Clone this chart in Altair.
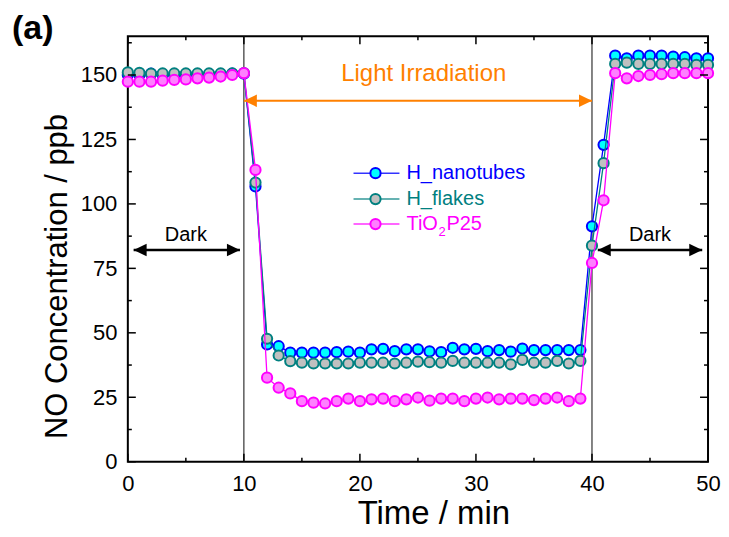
import altair as alt
import pandas as pd

minutes = list(range(51))
h_nanotubes = [150.0, 150.0, 150.5, 150.0, 150.0, 150.2, 150.2, 150.2, 150.2, 150.5, 150.5,
               106.8, 45.5, 44.8, 42.3, 42.3, 42.3, 42.3, 42.5, 42.7, 42.3, 43.6, 43.8, 42.9, 43.6, 43.6, 42.8,
               42.5, 44.2, 43.6, 43.8, 42.9, 43.3, 42.7, 43.9, 43.3, 43.3, 43.3, 43.3, 43.3,
               91.3, 122.9, 157.5, 156.5, 157.5, 157.5, 157.5, 157.1, 156.9, 156.5, 156.5]
h_flakes = [151.0, 150.8, 150.5, 150.6, 150.6, 150.6, 150.6, 150.6, 150.6, 150.6, 150.7,
            108.3, 47.7, 41.2, 39.0, 38.4, 38.1, 38.1, 38.1, 38.1, 38.4, 38.4, 38.4, 38.1, 38.4, 38.8, 38.6,
            38.4, 39.1, 38.4, 38.4, 38.4, 38.4, 37.8, 39.5, 38.4, 38.4, 39.1, 38.1, 39.1,
            83.8, 115.8, 154.3, 154.8, 154.3, 154.3, 154.3, 154.3, 154.3, 153.9, 153.9]
tio2_p25 = [147.4, 147.4, 147.4, 147.8, 148.1, 148.3, 148.7, 149.0, 149.4, 150.0, 150.7,
            113.2, 32.6, 28.7, 26.5, 23.5, 22.9, 22.6, 23.5, 24.5, 23.5, 24.2, 24.5, 23.5, 24.2, 24.9, 23.7,
            24.5, 24.5, 23.5, 24.5, 24.9, 24.2, 24.5, 24.5, 23.9, 24.5, 24.9, 23.5, 24.5,
            77.1, 101.4, 150.7, 148.7, 149.6, 150.0, 150.3, 150.7, 150.7, 150.7, 150.7]

series_names = ["H_nanotubes", "H_flakes", "TiO2P25"]
series_values = [h_nanotubes, h_flakes, tio2_p25]
line_colors = ["#0000FF", "#008080", "#FF00FF"]
fill_colors = ["#00FFFF", "#C0C0C0", "#FF80FF"]

x_major = [0, 10, 20, 30, 40, 50]
x_minor = [5, 15, 25, 35, 45]
y_major = [0, 25, 50, 75, 100, 125, 150]
y_minor = [12.5, 37.5, 62.5, 87.5, 112.5, 137.5, 162.5]

irradiation_bounds = [10, 40]
dark_labels = ["Dark", "Dark"]
dark_label_x = [5, 45]
dark_arrow_start = [0.5, 40.5]
dark_arrow_end = [9.66, 49.5]
dark_arrow_y = 82.1
dark_label_y = 85.5
light_label = "Light Irradiation"
light_label_x = 25.5
light_label_y = 147.7
light_arrow_y = 140

W, H = 581, 426
FONT = "Liberation Sans"
ORANGE = "#FF8000"
MSIZE = 105

xs = alt.Scale(domain=[0, 50], nice=False, zero=False)
ys = alt.Scale(domain=[0, 165], nice=False, zero=False)
x_axis = alt.Axis(values=x_major, title="Time / min", grid=False, domain=False, ticks=False, tickSize=0,
                  labelFont=FONT, labelFontSize=22, labelColor="black", labelPadding=12, labelFlush=False,
                  titleFont=FONT, titleFontSize=33, titleFontWeight="normal", titleColor="black",
                  titleX=306, titleY=62, titleAlign="center", titleBaseline="alphabetic")
y_axis = alt.Axis(values=y_major, title="NO Concentration / ppb", grid=False, domain=False, ticks=False,
                  tickSize=0, labelFont=FONT, labelFontSize=22, labelColor="black", labelPadding=11,
                  labelFlush=False,
                  titleFont=FONT, titleFontSize=31, titleFontWeight="normal", titleColor="black",
                  titleX=-61, titleY=240, titleAngle=270, titleAlign="center", titleBaseline="alphabetic")


def X(field):
    return alt.X(field, scale=xs, axis=x_axis)


def Y(field):
    return alt.Y(field, scale=ys, axis=y_axis)


layers = []

# vertical lines at the irradiation bounds
vl = pd.DataFrame({"x": irradiation_bounds})
layers.append(alt.Chart(vl).mark_rule(color="#333333", strokeWidth=1.2).encode(
    x=X("x:Q"), y=alt.value(0), y2=alt.value(H)))

# data series
for i, (name, vals) in enumerate(zip(series_names, series_values)):
    df = pd.DataFrame({"minute": minutes, "ppb": vals})
    base = alt.Chart(df).encode(x=X("minute:Q"), y=Y("ppb:Q"))
    layers.append(base.mark_line(color=line_colors[i], strokeWidth=1.3))
    layers.append(base.mark_point(shape="circle", size=MSIZE, filled=True, fill=fill_colors[i],
                                  stroke=line_colors[i], strokeWidth=2, opacity=1))


# tick marks, inward on all four sides
def yticks(vals, length):
    d = pd.DataFrame({"v": vals})
    left = alt.Chart(d).mark_rule(color="black", strokeWidth=1.5).encode(
        y=Y("v:Q"), x=alt.value(0), x2=alt.value(length))
    right = alt.Chart(d).mark_rule(color="black", strokeWidth=1.5).encode(
        y=Y("v:Q"), x=alt.value(W), x2=alt.value(W - length))
    return [left, right]


def xticks(vals, length):
    d = pd.DataFrame({"v": vals})
    bottom = alt.Chart(d).mark_rule(color="black", strokeWidth=1.5).encode(
        x=X("v:Q"), y=alt.value(H), y2=alt.value(H - length))
    top = alt.Chart(d).mark_rule(color="black", strokeWidth=1.5).encode(
        x=X("v:Q"), y=alt.value(0), y2=alt.value(length))
    return [bottom, top]


layers += yticks(y_major, 8) + yticks(y_minor, 4) + xticks(x_major, 8) + xticks(x_minor, 4)

# arrows
arrows = pd.DataFrame({
    "x1": dark_arrow_start + [irradiation_bounds[0]],
    "x2": dark_arrow_end + [irradiation_bounds[1]],
    "y": [dark_arrow_y, dark_arrow_y, light_arrow_y],
    "c": ["black", "black", ORANGE],
    "w": [2.5, 2.5, 2],
})
layers.append(alt.Chart(arrows).mark_rule().encode(
    x=X("x1:Q"), x2="x2:Q", y=Y("y:Q"),
    color=alt.Color("c:N", scale=None), strokeWidth=alt.StrokeWidth("w:Q", scale=None)))

heads_left = pd.DataFrame({"x": arrows["x1"], "y": arrows["y"], "c": arrows["c"]})
heads_right = pd.DataFrame({"x": arrows["x2"], "y": arrows["y"], "c": arrows["c"]})
layers.append(alt.Chart(heads_left).mark_point(shape="M0,0L1,-0.48L1,0.48Z", size=676, filled=True,
                                               opacity=1, strokeWidth=0).encode(
    x=X("x:Q"), y=Y("y:Q"), color=alt.Color("c:N", scale=None)))
layers.append(alt.Chart(heads_right).mark_point(shape="M0,0L-1,-0.48L-1,0.48Z", size=676, filled=True,
                                                opacity=1, strokeWidth=0).encode(
    x=X("x:Q"), y=Y("y:Q"), color=alt.Color("c:N", scale=None)))

# annotation texts
dark_df = pd.DataFrame({"x": dark_label_x, "y": [dark_label_y] * 2, "t": dark_labels})
layers.append(alt.Chart(dark_df).mark_text(font=FONT, fontSize=20, color="black", align="center",
                                           baseline="alphabetic").encode(
    x=X("x:Q"), y=Y("y:Q"), text="t:N"))
light_df = pd.DataFrame({"x": [light_label_x], "y": [light_label_y], "t": [light_label]})
layers.append(alt.Chart(light_df).mark_text(font=FONT, fontSize=24, color=ORANGE, align="center",
                                            baseline="alphabetic").encode(
    x=X("x:Q"), y=Y("y:Q"), text="t:N"))

# legend (pixel positions inside the plot area)
legend_rows = [137, 163, 188]
one = pd.DataFrame({"k": [0]})
for i in range(3):
    yrow = legend_rows[i]
    layers.append(alt.Chart(one).mark_rule(color=line_colors[i], strokeWidth=1.5, opacity=0.8).encode(
        x=alt.value(226), x2=alt.value(272), y=alt.value(yrow)))
    layers.append(alt.Chart(one).mark_point(shape="circle", size=MSIZE, filled=True, fill=fill_colors[i],
                                            stroke=line_colors[i], strokeWidth=2, opacity=1).encode(
        x=alt.value(248), y=alt.value(yrow)))
legend_text = [("H_nanotubes", 279, 137, 20, 0), ("H_flakes", 279, 163, 20, 1), ("TiO", 279, 188, 20, 2),
               ("2", 311, 196, 13, 2), ("P25", 319, 188, 20, 2)]
for t, x, y, fs, ci in legend_text:
    layers.append(alt.Chart(one).mark_text(text=t, font=FONT, fontSize=fs, color=line_colors[ci],
                                           align="left", baseline="middle").encode(
        x=alt.value(x), y=alt.value(y)))

# panel label
layers.append(alt.Chart(one).mark_text(text="(a)", font=FONT, fontSize=34, fontWeight="bold", color="black",
                                       align="left", baseline="alphabetic").encode(
    x=alt.value(-116), y=alt.value(3)))

chart = alt.layer(*layers).properties(
    width=W, height=H,
    background="white",
    autosize=alt.AutoSizeParams(type="none"),
    padding={"left": 120, "top": 28, "right": 13, "bottom": 70},
).configure_view(stroke="black", strokeWidth=2)

chart.save("out.html", embed_options={"renderer": "svg", "actions": False})
